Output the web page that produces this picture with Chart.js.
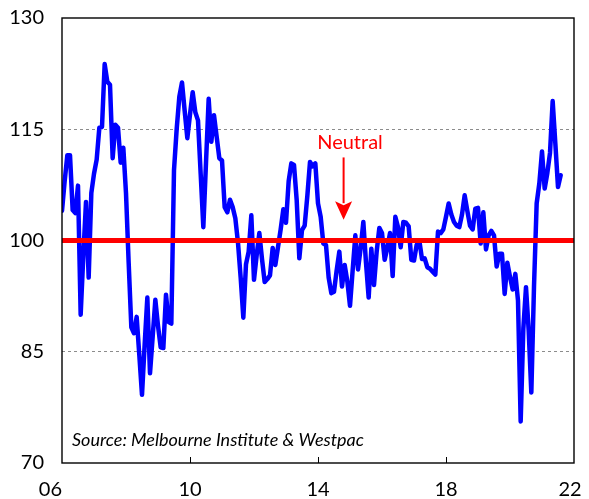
<!DOCTYPE html>
<html>
<head>
<meta charset="utf-8">
<title>Consumer sentiment</title>
<script src="https://cdn.jsdelivr.net/npm/chart.js@4.4.1/dist/chart.umd.min.js"></script>
<style>
  html, body { margin: 0; padding: 0; background: #ffffff; }
  #wrap { position: relative; width: 589px; height: 499px; }
</style>
</head>
<body>
<div id="wrap"><canvas id="chart"></canvas></div>
<script>
// Westpac-Melbourne Institute consumer sentiment index, one value per month.
// Each array is the stretch of the line plotted across one axis year.
const startYear = 2006;
const y2006 = [104, 108, 111.5, 111.5, 104.1, 103.7, 107.4, 90, 98, 105.2, 95, 106.4];
const y2007 = [109, 110.9, 115.2, 115.3, 123.8, 121.4, 121, 111.1, 115.6, 115.2, 110.5, 112.5];
const y2008 = [106.4, 97, 88.3, 87.5, 89.7, 84.5, 79.2, 86, 92.3, 82.1, 87, 92];
const y2009 = [88.5, 85.6, 85.5, 92.7, 89, 88.8, 109.5, 115, 119.4, 121.3, 117.5, 113.8];
const y2010 = [117, 120, 117.3, 116.2, 109, 101.8, 110.5, 119.1, 113.3, 116.9, 114, 111.1];
const y2011 = [110.8, 104.5, 103.8, 105.5, 104.5, 103, 99.7, 95, 89.6, 96.8, 98.5, 103.4];
const y2012 = [94.7, 98, 101, 97.5, 94.4, 94.8, 95.3, 99, 96.7, 99.1, 101.5, 104.2];
const y2013 = [102.4, 108, 110.4, 110.2, 105.5, 97.6, 101.4, 102, 106, 110.6, 110, 110.4];
const y2014 = [105, 103.2, 99.6, 99.4, 95, 92.9, 93.1, 96, 98.5, 93.8, 96.7, 94.5];
const y2015 = [91.2, 96, 100.7, 96.1, 99, 102.5, 97, 92.3, 98.9, 94, 98.5, 101.7];
const y2016 = [101, 97.4, 99, 101, 95.2, 103.2, 101.8, 99.1, 102.5, 102.4, 101.9, 97.4];
const y2017 = [97.3, 99.4, 100, 97.5, 97.6, 96.4, 96.2, 95.8, 95.4, 101.2, 101, 101.5];
const y2018 = [103.2, 105, 103.5, 102.5, 102, 101.8, 103.5, 106.1, 104, 102, 101.5, 104.3];
const y2019 = [104.4, 99.6, 103.8, 98.8, 100.7, 101.3, 100.7, 96.5, 98.2, 98.2, 92.8, 97];
const y2020 = [95.1, 93.4, 95.5, 91.9, 75.6, 88.1, 93.7, 87.9, 79.5, 93.8, 105, 107.7];
const y2021 = [112, 107, 109.1, 111.8, 118.8, 113.1, 107.2, 108.8];

// Axis setup
const xRange = [2006, 2022];
const xStep = 4;
const yRange = [70, 130];
const yStep = 15;
const dashedLevels = [85, 115];
const neutralLevel = 100;

const sentiment = [].concat(y2006, y2007, y2008, y2009, y2010, y2011, y2012, y2013,
                            y2014, y2015, y2016, y2017, y2018, y2019, y2020, y2021);
const sentimentPoints = sentiment.map((v, i) => ({ x: startYear + i / 12, y: v }));
const neutralPoints = [{ x: xRange[0], y: neutralLevel }, { x: xRange[1], y: neutralLevel }];

const FONT = 'Lato, "Open Sans", sans-serif';

// Tick labels, frame, inward x ticks, the "Neutral" label with its arrow and the source note
const decorations = {
    id: 'decorations',
    beforeDatasetsDraw(chart) {
        const ctx = chart.ctx;
        const x = chart.scales.x;
        const y = chart.scales.y;
        const a = chart.chartArea;
        ctx.save();
        ctx.strokeStyle = '#000';
        ctx.lineWidth = 1;
        x.ticks.forEach(t => {
            if (t.value <= xRange[0] || t.value >= xRange[1]) return;
            const px = Math.round(x.getPixelForValue(t.value)) + 0.5;
            ctx.beginPath();
            ctx.moveTo(px, a.bottom);
            ctx.lineTo(px, a.bottom - 6);
            ctx.stroke();
        });

        // axis labels
        ctx.fillStyle = '#000';
        ctx.font = '20px ' + FONT;
        ctx.textBaseline = 'middle';
        ctx.textAlign = 'right';
        y.ticks.forEach(t => {
            ctx.fillText(String(t.value), a.left - 18, y.getPixelForValue(t.value));
        });
        x.ticks.forEach((t, i) => {
            const label = String(t.value % 100).padStart(2, '0');
            ctx.textAlign = i === 0 ? 'right' : 'center';
            const px = x.getPixelForValue(t.value) - (i === x.ticks.length - 1 ? 4 : 0);
            ctx.fillText(label, px, a.bottom + 27);
        });
        ctx.restore();
    },
    afterDatasetsDraw(chart) {
        const ctx = chart.ctx;
        const x = chart.scales.x;
        const y = chart.scales.y;
        const a = chart.chartArea;
        ctx.save();

        // plot frame
        ctx.strokeStyle = '#000';
        ctx.lineWidth = 1.4;
        ctx.strokeRect(a.left, a.top, a.right - a.left, a.bottom - a.top);

        // Neutral annotation
        ctx.fillStyle = '#ff0000';
        ctx.strokeStyle = '#ff0000';
        ctx.font = '20px ' + FONT;
        ctx.textAlign = 'center';
        ctx.textBaseline = 'middle';
        ctx.fillText('Neutral', x.getPixelForValue(2015.0), y.getPixelForValue(113.2));

        const ax = x.getPixelForValue(2014.8);
        const yTop = y.getPixelForValue(111.2);
        const yHead = y.getPixelForValue(105.3);
        const yTip = y.getPixelForValue(102.8);
        ctx.lineWidth = 2;
        ctx.beginPath();
        ctx.moveTo(ax, yTop);
        ctx.lineTo(ax, yHead + 2);
        ctx.stroke();
        ctx.beginPath();
        ctx.moveTo(ax - 8.5, yHead);
        ctx.lineTo(ax, yHead + 4);
        ctx.lineTo(ax + 8.5, yHead);
        ctx.lineTo(ax, yTip);
        ctx.closePath();
        ctx.fill();

        // source note
        ctx.fillStyle = '#000';
        ctx.font = 'italic 18px ' + FONT;
        ctx.textAlign = 'left';
        ctx.fillText('Source: Melbourne Institute & Westpac', a.left + 10, a.bottom - 23);
        ctx.restore();
    }
};

const ctx = document.getElementById('chart').getContext('2d');
new Chart(ctx, {
    type: 'line',
    data: {
        datasets: [
            {
                label: 'Neutral',
                data: neutralPoints,
                borderColor: '#ff0000',
                borderWidth: 5,
                pointRadius: 0,
                order: 0
            },
            {
                label: 'Consumer sentiment',
                data: sentimentPoints,
                borderColor: '#0000ff',
                borderWidth: 4.5,
                pointRadius: 0,
                tension: 0,
                borderJoinStyle: 'round',
                borderCapStyle: 'round',
                order: 1
            }
        ]
    },
    options: {
        responsive: true,
        maintainAspectRatio: false,
        animation: false,
        events: [],
        layout: { padding: { top: 18, right: 15, bottom: 36, left: 62 } },
        plugins: {
            legend: { display: false },
            tooltip: { enabled: false }
        },
        scales: {
            x: {
                type: 'linear',
                min: xRange[0],
                max: xRange[1],
                afterFit: scale => { scale.height = 0; },
                border: { display: false },
                grid: { display: false, drawTicks: false },
                ticks: { stepSize: xStep, display: false }
            },
            y: {
                min: yRange[0],
                max: yRange[1],
                afterFit: scale => { scale.width = 0; },
                grid: {
                    drawTicks: false,
                    color: c => dashedLevels.includes(c.tick.value) ? '#8c8c8c' : 'rgba(0,0,0,0)',
                    lineWidth: 1
                },
                border: { display: false, dash: [3, 3] },
                ticks: { stepSize: yStep, display: false }
            }
        }
    },
    plugins: [decorations]
});
</script>
</body>
</html>
